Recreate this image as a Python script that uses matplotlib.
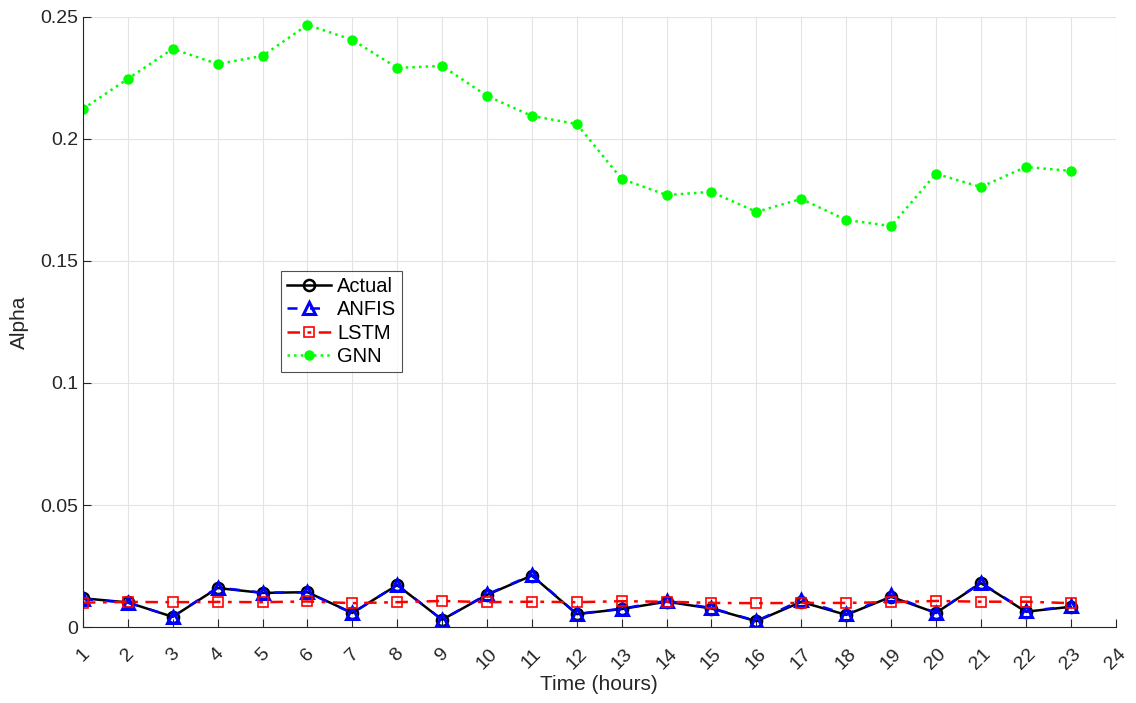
import matplotlib
matplotlib.use("Agg")
import matplotlib.pyplot as plt
import numpy as np

plt.rcParams['font.family'] = ['Liberation Sans', 'DejaVu Sans']

hours = list(range(1, 24))
actual = [0.0118, 0.0101, 0.0042, 0.0160, 0.0140, 0.0143, 0.0058, 0.0172, 0.0030, 0.0132,
          0.0211, 0.0053, 0.0074, 0.0104, 0.0076, 0.0024, 0.0103, 0.0050, 0.0124, 0.0058,
          0.0180, 0.0063, 0.0083]
anfis = [0.0115, 0.0100, 0.0043, 0.0162, 0.0141, 0.0142, 0.0057, 0.0173, 0.0030, 0.0134,
         0.0213, 0.0054, 0.0075, 0.0108, 0.0078, 0.0025, 0.0110, 0.0052, 0.0130, 0.0058,
         0.0182, 0.0065, 0.0085]
lstm = [0.0100, 0.0103, 0.0102, 0.0103, 0.0102, 0.0105, 0.0098, 0.0102, 0.0107, 0.0102,
        0.0104, 0.0102, 0.0106, 0.0104, 0.0099, 0.0098, 0.0099, 0.0099, 0.0102, 0.0107,
        0.0104, 0.0104, 0.0098]
gnn = [0.2123, 0.2246, 0.2369, 0.2307, 0.2340, 0.2467, 0.2406, 0.2291, 0.2299, 0.2176,
       0.2094, 0.2061, 0.1836, 0.1770, 0.1783, 0.1701, 0.1754, 0.1668, 0.1643, 0.1857,
       0.1803, 0.1885, 0.1869]
xticks = list(range(1, 25))
yticks = [0, 0.05, 0.1, 0.15, 0.2, 0.25]
ytick_labels = ['0', '0.05', '0.1', '0.15', '0.2', '0.25']

fig = plt.figure(figsize=(11.36, 7.03), dpi=100)
ax = fig.add_axes([0.073, 0.108, 0.909, 0.868])

ax.plot(hours, actual, color='black', lw=1.8, marker='o', ms=8, mfc='none', mew=1.8, label='Actual')
ax.plot(hours, anfis, color='blue', lw=1.8, ls='--', dashes=(4, 5), marker='^', ms=9, mfc='none', mew=2.2, label='ANFIS')
ax.plot(hours, lstm, color='red', lw=1.8, ls='-.', dashes=(5, 3, 1.5, 3), marker='s', ms=7, mfc='none', mew=1.2, label='LSTM')
ax.plot(hours, gnn, color='#00ff00', lw=1.8, ls=':', marker='o', ms=6.5, mfc='#00ff00', mec='#00ff00', label='GNN')

ax.set_xlim(1, 24)
ax.set_ylim(0, 0.25)
ax.set_xticks(xticks)
ax.set_xticklabels([str(t) for t in xticks], rotation=45, ha='center', fontsize=14, color='#262626')
ax.set_yticks(yticks)
ax.set_yticklabels(ytick_labels, fontsize=14, color='#262626')
ax.tick_params(direction='in', length=6, color='#262626', width=0.8)
ax.tick_params(axis='x', pad=13)
ax.grid(True, color='#e3e3e3', lw=0.8)
ax.set_axisbelow(True)
for s in ['top', 'right']:
    ax.spines[s].set_visible(False)
for s in ['left', 'bottom']:
    ax.spines[s].set_color('#262626')
    ax.spines[s].set_linewidth(0.8)

ax.set_xlabel('Time (hours)', fontsize=15, color='#262626', labelpad=2)
ax.set_ylabel('Alpha', fontsize=15, color='#262626', labelpad=8)

leg = ax.legend(loc='upper left', bbox_to_anchor=(0.1917, 0.584), fontsize=14.5, frameon=True,
                fancybox=False, edgecolor='#262626', handlelength=2.2, borderpad=0.3,
                labelspacing=0.22, handletextpad=0.3, borderaxespad=0)
leg.get_frame().set_linewidth(0.8)

fig.savefig('out.png', dpi=100)
